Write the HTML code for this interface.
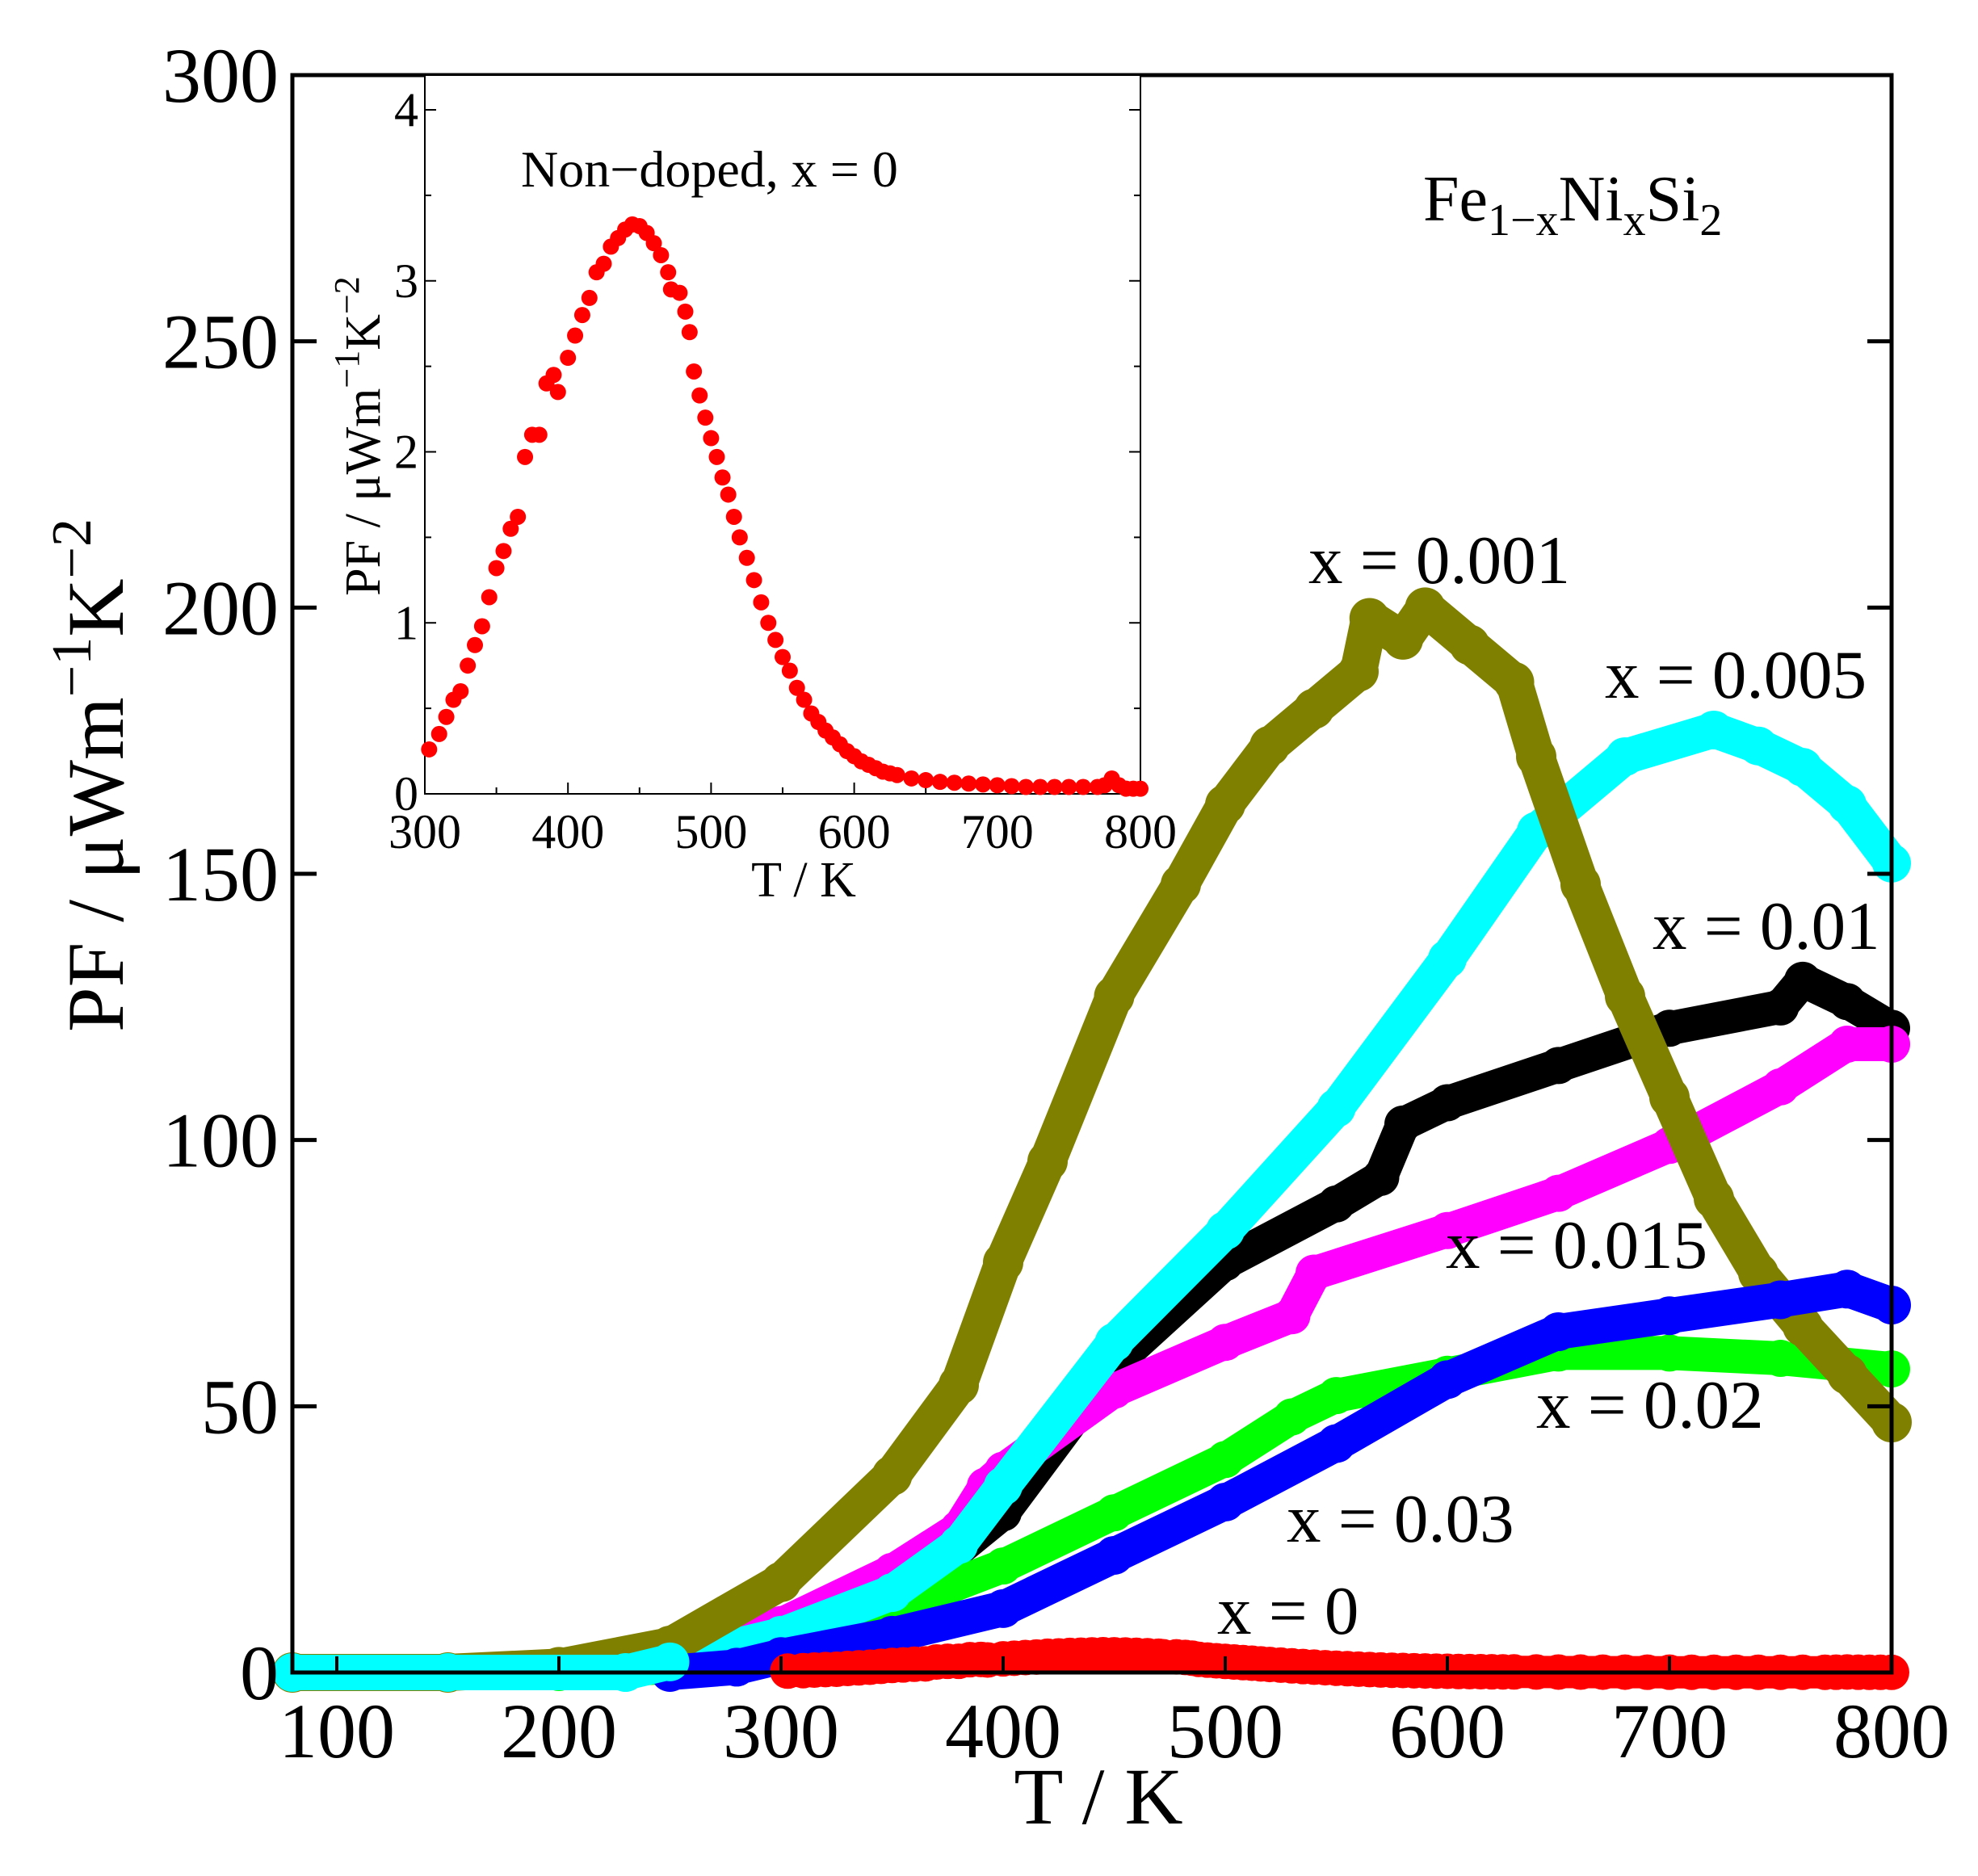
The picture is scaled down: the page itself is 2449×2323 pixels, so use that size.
<!DOCTYPE html>
<html><head><meta charset="utf-8"><style>
html,body{margin:0;padding:0;background:#fff;}
svg{display:block;font-family:"Liberation Serif",serif;}
</style></head><body>
<svg id="chart" width="2449" height="2323" viewBox="0 0 2449 2323" xmlns="http://www.w3.org/2000/svg">
<g id="series"></g>
<rect x="362" y="93" width="1980" height="1978" fill="none" stroke="#000" stroke-width="5"/>
<g id="mainticks"></g>
<text x="1360" y="2258" font-size="100" text-anchor="middle">T / K</text>
<text transform="translate(152,960) rotate(-90)" font-size="100" text-anchor="middle">PF / μWm<tspan dy="-40" font-size="70">−1</tspan><tspan dy="40">K</tspan><tspan dy="-40" font-size="70">−2</tspan></text>
<text x="1762" y="273" font-size="80">Fe<tspan dy="18" font-size="56">1−x</tspan><tspan dy="-18">Ni</tspan><tspan dy="18" font-size="56">x</tspan><tspan dy="-18">Si</tspan><tspan dy="18" font-size="56">2</tspan></text>
<g font-size="85">
<text x="1620" y="722">x = 0.001</text>
<text x="1987" y="864">x = 0.005</text>
<text x="2046" y="1175">x = 0.01</text>
<text x="1790" y="1570">x = 0.015</text>
<text x="1902" y="1768">x = 0.02</text>
<text x="1593" y="1909">x = 0.03</text>
<text x="1507" y="2023">x = 0</text>
</g>
<g id="inset"></g>
</svg>
<script>
// ---- main chart data ----
const olive_T = [80,150,200,250,300,350,380,400,420,450,480,500,520,540,560,565,580,590,610,630,640,660,680,700,720,740,760,780,800];
const olive_PF = [0,0,1,5,17,37,54,77,96,127,148,163,174,181,188,198,194,200,193,186,172,148,127,108,89,75,65,56,47];
const cyan_T = [80,150,230,250,300,350,380,400,450,500,550,600,640,680,720,740,760,780,800];
const cyan_PF = [0,0,0,2,7,15,24,35,62,83,106,134,158,172,177,174,170,163,152];
const black_T = [250,300,350,400,450,500,550,570,580,600,650,700,750,760,780,800];
const black_PF = [2,6,13,30,58,77,88,93,103,107,114,121,125,130,126,121];
const magenta_T = [250,300,350,380,392,400,450,500,530,540,600,650,700,750,780,800];
const magenta_PF = [3,9,19,27,35,38,53,62,67,75,83,90,99,110,118,118];
const green_T = [80,200,250,300,350,400,450,500,530,550,600,650,700,750,800];
const green_PF = [0,0,1,5,12,20,30,40,48,52,56,60,60,59,57];
const blue_T = [250,280,300,350,400,450,500,550,600,650,700,750,780,800];
const blue_PF = [0,1,3,7,12,22,32,43,55,64,67,70,72,69];
// ---- inset data (x = 0) ----
const inset_T = [303,310,315,320,325,330,335,340,345,350,355,360,365,370,375,380,385,390,393,400,405,410,415,420,425,430,435,440,445,450,455,460,465,470,472,478,482,485,488,492,496,500,504,508,512,516,520,525,530,535,540,545,550,555,560,565,570,575,580,585,590,595,600,605,610,615,620,625,630,640,650,660,670,680,690,700,710,720,730,740,750,760,770,775,780,785,790,795,800];
const inset_PF = [0.26,0.35,0.45,0.55,0.6,0.75,0.87,0.98,1.15,1.32,1.42,1.55,1.62,1.97,2.1,2.1,2.4,2.45,2.35,2.55,2.68,2.8,2.9,3.05,3.1,3.2,3.25,3.3,3.33,3.32,3.28,3.22,3.15,3.05,2.95,2.93,2.82,2.7,2.47,2.33,2.2,2.08,1.97,1.85,1.75,1.62,1.5,1.38,1.25,1.12,1.0,0.9,0.8,0.72,0.62,0.55,0.47,0.42,0.37,0.33,0.29,0.25,0.22,0.19,0.17,0.15,0.13,0.12,0.11,0.09,0.08,0.07,0.065,0.06,0.055,0.05,0.045,0.04,0.04,0.04,0.04,0.04,0.04,0.05,0.09,0.05,0.03,0.03,0.03];
const red_T = inset_T;
const red_PF = inset_PF;
const xTicks = [100,200,300,400,500,600,700,800];
const yTicks = [0,50,100,150,200,250,300];
const insetXTicks = [300,400,500,600,700,800];
const insetYTicks = [0,1,2,3,4];

const NS = "http://www.w3.org/2000/svg";
const X = t => 362 + (t - 80) * (1980 / 720);
const Y = v => 2071 - v * (1978 / 300);
const IX = t => 526 + (t - 300) * (886 / 500);
const IY = v => 983 - v * (847 / 4);
function mk(tag, attrs, parent) {
  const e = document.createElementNS(NS, tag);
  for (const k in attrs) e.setAttribute(k, attrs[k]);
  parent.appendChild(e);
  return e;
}
const seriesG = document.getElementById('series');
function drawSeries(name, T, P, color, w, maxT) {
  const g = mk('g', {}, seriesG);
  
  
  const idx = T.map((t, i) => i).filter(i => maxT === undefined || T[i] <= maxT);
  const pts = idx.map(i => X(T[i]).toFixed(1) + ',' + Y(P[i]).toFixed(1)).join(' ');
  const pl = mk('polyline', {points: pts, fill: 'none', stroke: color, 'stroke-width': w, 'stroke-linejoin': 'round', 'stroke-linecap': 'round'}, g);
  
  
  idx.forEach(i => {
    const c = mk('circle', {cx: X(T[i]), cy: Y(P[i]), r: w / 2 + 2, fill: color}, g);
    
    
  });
}
drawSeries('x-0.01', black_T, black_PF, '#000000', 42);
drawSeries('x-0.015', magenta_T, magenta_PF, '#ff00ff', 42);
drawSeries('x-0.02', green_T, green_PF, '#00ff00', 42);
drawSeries('x-0.005', cyan_T, cyan_PF, '#00ffff', 44);
drawSeries('x-0.001', olive_T, olive_PF, '#808000', 46);
drawSeries('x-0.03', blue_T, blue_PF, '#0000ff', 44);
drawSeries('x-0', red_T, red_PF, '#ff0000', 40);
drawSeries('x-0.005-lowT', cyan_T, cyan_PF, '#00ffff', 44, 260);

// main ticks
const tg = document.getElementById('mainticks');
xTicks.forEach(t => {
  const l = mk('line', {x1: X(t), x2: X(t), y1: 2071, y2: 2051, stroke: '#000', 'stroke-width': 4}, tg);
  
  
  const tx = mk('text', {x: X(t), y: 2176, 'font-size': 96, 'text-anchor': 'middle'}, tg);
  tx.textContent = t;
  
  
});
yTicks.forEach(v => {
  const l = mk('line', {x1: 362, x2: 392, y1: Y(v), y2: Y(v), stroke: '#000', 'stroke-width': 5}, tg);
  
  
  const r = mk('line', {x1: 2312, x2: 2342, y1: Y(v), y2: Y(v), stroke: '#000', 'stroke-width': 5}, tg);
  
  
  const tx = mk('text', {x: 345, y: Y(v) + 33, 'font-size': 96, 'text-anchor': 'end'}, tg);
  tx.textContent = v;
  
  
});

// inset
const ig = document.getElementById('inset');
const bg = mk('rect', {x: 526, y: 93, width: 886, height: 890, fill: '#fff', stroke: '#000', 'stroke-width': 2}, ig);


for (let t = 300; t <= 800; t += 50) {
  const major = t % 100 === 0;
  const len = major ? 14 : 8;
  const a = mk('line', {x1: IX(t), x2: IX(t), y1: 983, y2: 983 - len, stroke: '#000', 'stroke-width': 2}, ig);
  
  
}
insetXTicks.forEach(t => {
  const tx = mk('text', {x: IX(t), y: 1050, 'font-size': 60, 'text-anchor': 'middle'}, ig);
  tx.textContent = t;
  
  
});
for (let v = 0; v <= 4; v += 0.5) {
  const major = v % 1 === 0;
  const len = major ? 14 : 8;
  const a = mk('line', {x1: 526, x2: 526 + len, y1: IY(v), y2: IY(v), stroke: '#000', 'stroke-width': 2}, ig);
  
  
  const b = mk('line', {x1: 1412, x2: 1412 - len, y1: IY(v), y2: IY(v), stroke: '#000', 'stroke-width': 2}, ig);
  
  
}
insetYTicks.forEach(v => {
  const tx = mk('text', {x: 518, y: IY(v) + 20, 'font-size': 60, 'text-anchor': 'end'}, ig);
  tx.textContent = v;
  
  
});
inset_T.forEach((t, i) => {
  const c = mk('circle', {cx: IX(t), cy: IY(inset_PF[i]), r: 10, fill: '#ff0000'}, ig);
  
  
});
const it = mk('text', {x: 995, y: 1110, 'font-size': 62, 'text-anchor': 'middle'}, ig);
it.textContent = 'T / K';


const iy = mk('text', {transform: 'translate(470,540) rotate(-90)', 'font-size': 62, 'text-anchor': 'middle'}, ig);
iy.innerHTML = 'PF / μWm<tspan dy="-26" font-size="44">−1</tspan><tspan dy="26">K</tspan><tspan dy="-26" font-size="44">−2</tspan>';


const nd = mk('text', {x: 645, y: 231, 'font-size': 64}, ig);
nd.textContent = 'Non−doped, x = 0';


</script>
</body></html>
